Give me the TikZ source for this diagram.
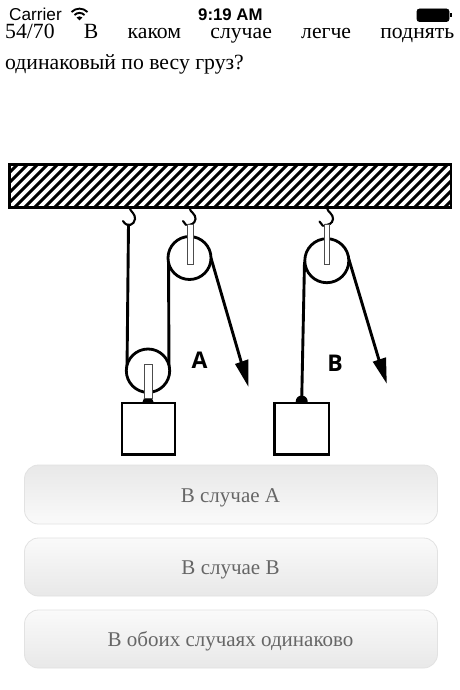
\documentclass[tikz,border=0pt]{standalone}
\usepackage{fontspec}
\setmainfont{Liberation Serif}
\newfontfamily\uisans{Liberation Sans}
\newfontfamily\markfont{Open Sans}
\definecolor{btntext}{HTML}{666666}
\definecolor{btnedge}{HTML}{E2E2E2}
\definecolor{btnlight}{HTML}{FAFAFA}
\definecolor{btndark}{HTML}{E8E8E8}
\tikzset{
  x=1pt,y=-1pt,
  qtext/.style={anchor=base west,inner sep=0pt,font=\fontsize{21.7}{24}\selectfont},
  status/.style={anchor=base west,inner sep=0pt,font=\uisans\fontsize{17.2}{18}\selectfont},
  statusb/.style={anchor=base west,inner sep=0pt,font=\uisans\bfseries\fontsize{16.8}{18}\selectfont},
  btn/.style={rounded corners=14pt,draw=btnedge,line width=0.8pt},
  btndown/.style={btn,top color=btnlight,bottom color=btndark},
  btnup/.style={btn,top color=btndark,bottom color=btnlight},
  btnlabel/.style={text=btntext,inner sep=0pt,font=\fontsize{21}{24}\selectfont},
  rope/.style={line width=2.9pt,black},
  sheave/.style={line width=2.8pt,draw=black,fill=white},
  bracket/.style={line width=1pt,draw=black!70,fill=white},
  hook/.style={line width=2.1pt,black,line cap=round},
  boxload/.style={line width=2.8pt,draw=black,fill=white},
  lettermark/.style={inner sep=0pt,font=\markfont\bfseries\fontsize{23}{25}\selectfont},
}
\begin{document}
\begin{tikzpicture}
\useasboundingbox (0,0) rectangle (460,690);
\fill[white] (0,0) rectangle (460,690);
% status bar
\node[status] (carrier) at (9,20.5) {Carrier};
\node[statusb] (clock) at (198,20.5) {9:19 AM};
\begin{scope}[line width=1.9pt,black]
  \draw (71.5,12) .. controls (76,7.5) and (83,7.5) .. (87.5,12);
  \draw (74.5,15) .. controls (77.5,12.2) and (81.5,12.2) .. (84.5,15);
  \fill (79.5,20.5) -- (76.6,17.4) .. controls (78.5,16) and (80.5,16) .. (82.4,17.4) -- cycle;
\end{scope}
\draw[line width=0.7pt,fill=black,rounded corners=2.5pt] (417,9) rectangle (449,21.5);
\fill[black] (449.5,13) rectangle (451.5,17.5);
% question
\node[qtext] (line1) at (5,38.3) {\hbox to 449pt{54/70\hfill В\hfill каком\hfill случае\hfill легче\hfill поднять}};
\node[qtext] (line2) at (5,70) {одинаковый по весу груз?};
% beam
\begin{scope}
  \clip (9.5,164.5) rectangle (451,207.5);
  \foreach \k in {-8,...,48}{
    \draw[line width=2.9pt,black] ({\k*10},212) -- ({\k*10+52},160);
  }
\end{scope}
\draw[line width=2.6pt,black] (9.5,164.5) rectangle (451,207.5);
% left hook
\draw[hook] (129.5,208) .. controls (131,212) and (135.5,214) .. (135,219) .. controls (134.5,225) and (127,228) .. (123,221);
% hooks on pulleys
\draw[hook] (189.5,208) .. controls (190,212) and (196,214) .. (195.5,219) .. controls (195,224) and (190,225) .. (188,225);
\draw[hook] (183,221) -- (186,225);
\draw[hook] (327,208) .. controls (327.5,212) and (333.5,214) .. (333,219) .. controls (332.5,224) and (328,225) .. (325,225);
\draw[hook] (319.5,221.5) -- (323,226);
% ropes of A
\draw[rope] (128.5,224) -- (127,370);
\draw[rope] (168.5,258) -- (169,370);
\draw[rope] (211,258) -- (241.5,363);
% arrow head A
\fill[black] (248.3,386.5) -- (235,364) -- (248.3,359.3) -- cycle;
% upper sheave A
\draw[sheave] (189.5,258) circle[radius=21.5];
\draw[bracket] (187.5,224.5) rectangle (193,264);
% lower sheave A
\draw[sheave] (148,370.7) circle[radius=21.7];
\fill[black] (148,402) circle[radius=5.5];
\draw[bracket] (144.7,364.5) rectangle (152,398);
\draw[boxload] (122,403) rectangle (175,454.5);
\node[lettermark] (la) at (199.5,360.5) {A};
% system B
\draw[rope] (304.5,262) -- (301.7,400);
\draw[rope] (348.5,258) -- (379,360);
\fill[black] (386.7,383.5) -- (372.7,361.7) -- (386,357.3) -- cycle;
\draw[sheave] (326.8,260.7) circle[radius=22];
\draw[bracket] (324.3,224.5) rectangle (329.7,264);
\fill[black] (301.7,401.5) circle[radius=6];
\draw[boxload] (274.5,403) rectangle (329,454.5);
\node[lettermark] (lb) at (335,363) {B};
% buttons
\draw[btnup] (24.5,465) rectangle (437.5,524);
\node[btnlabel] (b1) at (230.5,498) {В случае А};
\draw[btndown] (24.5,538) rectangle (437.5,596);
\node[btnlabel] (b2) at (230.5,570) {В случае В};
\draw[btndown] (24.5,610) rectangle (437.5,668);
\node[btnlabel] (b3) at (230.5,641) {В обоих случаях одинаково};
\end{tikzpicture}
\end{document}
